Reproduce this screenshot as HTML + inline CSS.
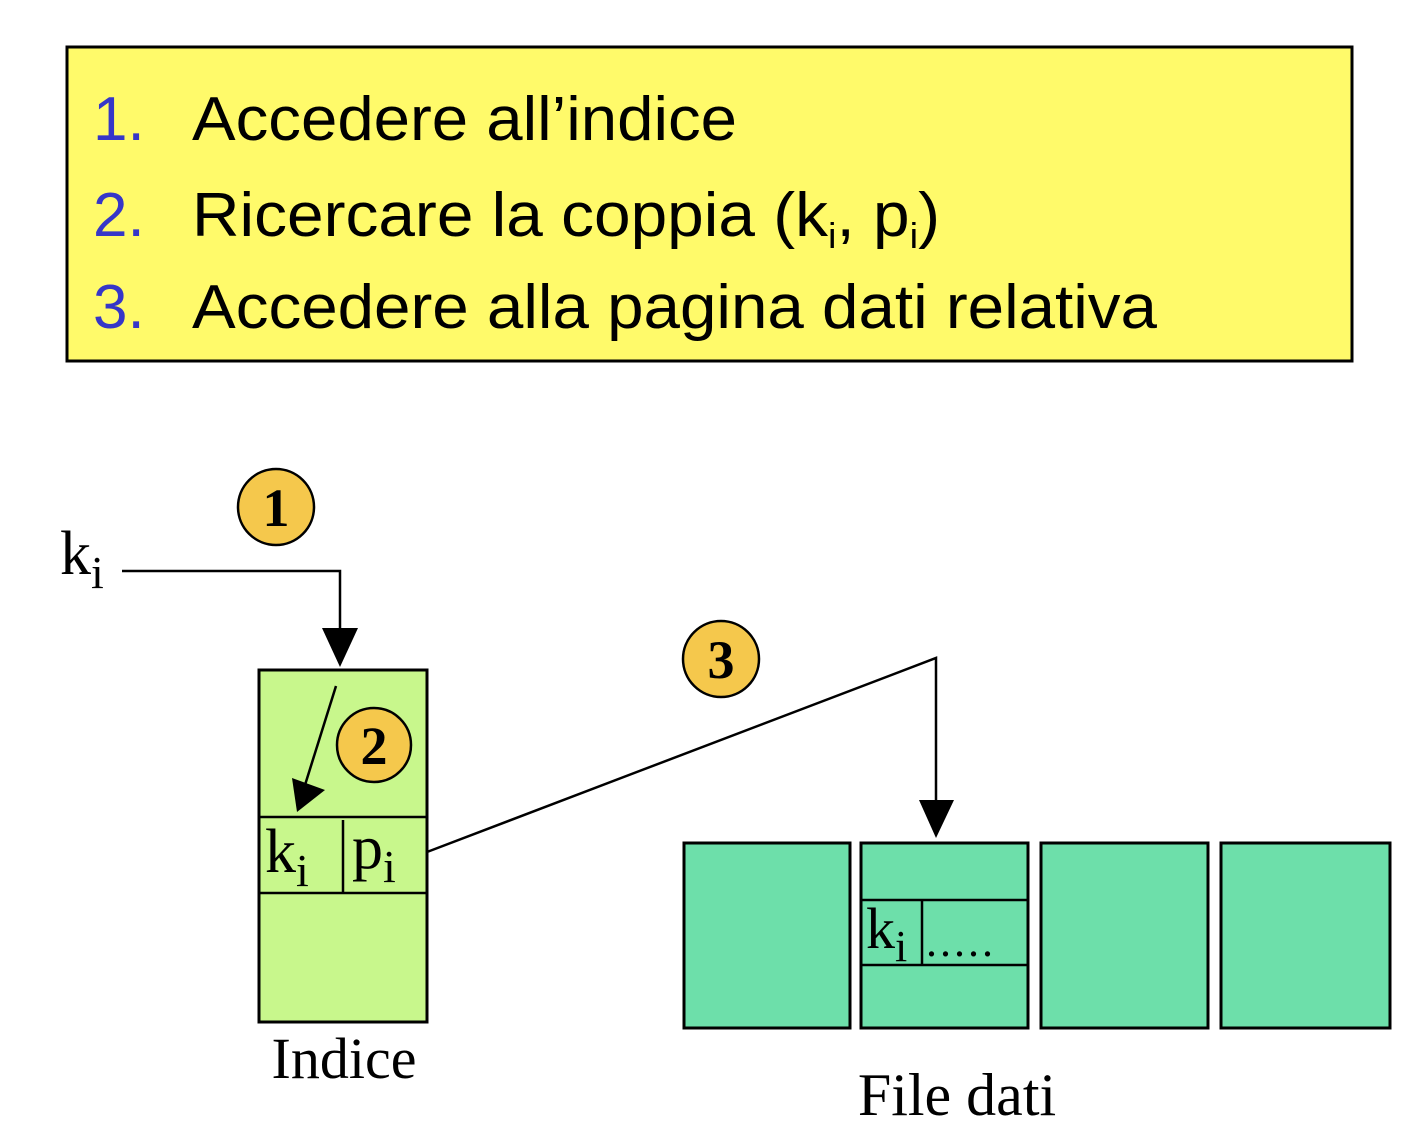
<!DOCTYPE html>
<html><head><meta charset="utf-8"><style>body{margin:0;background:#fff}svg{display:block}</style></head><body>
<svg width="1420" height="1144" viewBox="0 0 1420 1144" xmlns="http://www.w3.org/2000/svg">
<rect x="67" y="47" width="1285" height="314" fill="#fffa6a" stroke="#000" stroke-width="3"/>
<g font-family="Liberation Sans, sans-serif" font-size="62">
<text x="93" y="140" fill="#3636c8">1.</text><text x="192" y="140" fill="#000" textLength="545" lengthAdjust="spacingAndGlyphs">Accedere all’indice</text>
<text x="93" y="236" fill="#3636c8">2.</text><text x="192" y="236" fill="#000" textLength="748" lengthAdjust="spacingAndGlyphs">Ricercare la coppia (k<tspan font-size="36" dy="12">i</tspan><tspan dy="-12">, p</tspan><tspan font-size="36" dy="12">i</tspan><tspan dy="-12">)</tspan></text>
<text x="93" y="328" fill="#3636c8">3.</text><text x="192" y="328" fill="#000" textLength="965" lengthAdjust="spacingAndGlyphs">Accedere alla pagina dati relativa</text>
</g>
<g font-family="Liberation Serif, serif" fill="#000">
<text x="60" y="574" font-size="62">k<tspan font-size="46" dy="14">i</tspan></text>
</g>
<polyline points="122,571 340,571 340,630" fill="none" stroke="#000" stroke-width="2.5"/>
<polygon points="322,628 358,628 340,667" fill="#000"/>
<rect x="259" y="670" width="168" height="352" fill="#c8f78c" stroke="#000" stroke-width="3"/>
<line x1="259" y1="817" x2="427" y2="817" stroke="#000" stroke-width="2.5"/>
<line x1="259" y1="893" x2="427" y2="893" stroke="#000" stroke-width="2.5"/>
<line x1="343" y1="820" x2="343" y2="893" stroke="#000" stroke-width="2.5"/>
<line x1="336" y1="686" x2="305" y2="785" stroke="#000" stroke-width="2.5"/>
<polygon points="292,778 325,790 297,812" fill="#000"/>
<g font-family="Liberation Serif, serif" fill="#000">
<text x="265" y="872" font-size="62">k<tspan font-size="46" dy="14">i</tspan></text>
<text x="352" y="868" font-size="62">p<tspan font-size="46" dy="14">i</tspan></text>
</g>
<polyline points="427,852 936,658 936,805" fill="none" stroke="#000" stroke-width="2.5"/>
<polygon points="919,800 954,800 936,838" fill="#000"/>
<g fill="#6ddfaa" stroke="#000" stroke-width="3">
<rect x="684" y="843" width="166" height="185"/>
<rect x="861" y="843" width="167" height="185"/>
<rect x="1041" y="843" width="167" height="185"/>
<rect x="1221" y="843" width="169" height="185"/>
</g>
<line x1="861" y1="900" x2="1028" y2="900" stroke="#000" stroke-width="2.5"/>
<line x1="861" y1="965" x2="1028" y2="965" stroke="#000" stroke-width="2.5"/>
<line x1="922" y1="900" x2="922" y2="965" stroke="#000" stroke-width="2.5"/>
<g font-family="Liberation Serif, serif" fill="#000">
<text x="866" y="948" font-size="58">k<tspan font-size="44" dy="13">i</tspan></text>
<text x="926" y="956" font-size="44" letter-spacing="3">.....</text>
<text x="344" y="1078" font-size="58" text-anchor="middle">Indice</text>
<text x="957" y="1115" font-size="60" text-anchor="middle">File dati</text>
</g>
<g stroke="#000" stroke-width="2.5" fill="#f5c84c">
<circle cx="276" cy="507" r="38"/>
<circle cx="721" cy="659" r="38"/>
<circle cx="374" cy="745" r="37"/>
</g>
<g font-family="Liberation Serif, serif" font-weight="bold" font-size="54" text-anchor="middle" fill="#000">
<text x="276" y="526">1</text>
<text x="721" y="678">3</text>
<text x="374" y="764">2</text>
</g>
</svg>
</body></html>
